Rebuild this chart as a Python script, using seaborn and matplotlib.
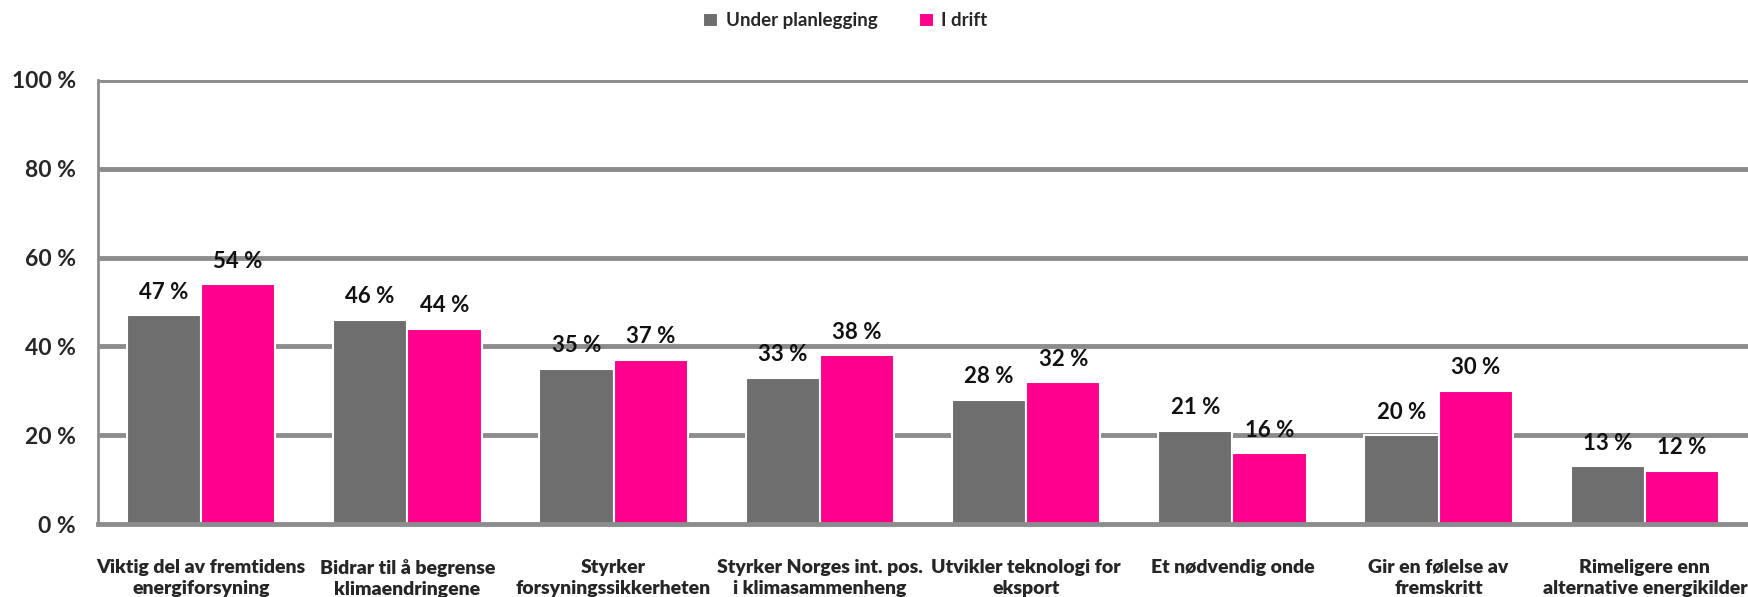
import numpy as np
import pandas as pd
import matplotlib.pyplot as plt
import seaborn as sns

categories = ['Viktig del av fremtidens\nenergiforsyning',
              'Bidrar til å begrense\nklimaendringene',
              'Styrker\nforsyningssikkerheten',
              'Styrker Norges int. pos.\ni klimasammenheng',
              'Utvikler teknologi for\neksport',
              'Et nødvendig onde',
              'Gir en følelse av\nfremskritt',
              'Rimeligere enn\nalternative energikilder']
under_planlegging = [47, 46, 35, 33, 28, 21, 20, 13]
i_drift = [54, 44, 37, 38, 32, 16, 30, 12]
series = ['Under planlegging', 'I drift']
yticks = [0, 20, 40, 60, 80, 100]

df = pd.DataFrame({
    'kategori': categories * 2,
    'serie': [series[0]] * len(categories) + [series[1]] * len(categories),
    'andel': under_planlegging + i_drift,
})

sns.set_style('white')
plt.rcParams['font.family'] = ['Lato', 'DejaVu Sans']

fig = plt.figure(figsize=(17.48, 5.97), dpi=100)
ax = fig.add_axes([0.056, 0.122, 0.944, 0.744])

grid_col = '#8c8c8c'
for y in yticks[1:]:
    ax.axhline(y, color=grid_col, lw=3.5, zorder=0)

sns.barplot(data=df, x='kategori', y='andel', hue='serie', hue_order=series,
            palette=['#6e6e6e', '#ff008c'], saturation=1, width=0.72,
            edgecolor='white', linewidth=1.5, ax=ax, zorder=2)

for cont in ax.containers:
    ax.bar_label(cont, labels=[f'{v:.0f} %' for v in cont.datavalues],
                 padding=9, fontsize=16, fontweight='bold', color='#111111')

ax.set_ylim(0, 100)
ax.set_xlim(-0.5, len(categories) - 0.5)
ax.set_yticks(yticks)
ax.set_yticklabels([f'{t} %' for t in yticks], fontsize=16.5, fontweight='bold')
ax.tick_params(axis='y', length=8, width=3.5, color=grid_col, pad=8)
ax.set_xticks(range(len(categories)))
ax.set_xticklabels(categories, fontsize=14, fontweight='heavy', linespacing=1.3)
ax.tick_params(axis='x', which='major', length=0, pad=25)
ax.set_xticks(np.arange(-0.5, len(categories)), minor=True)
ax.tick_params(axis='x', which='minor', length=7, width=2, color=grid_col)
ax.set_xlabel('')
ax.set_ylabel('')

for s in ['top', 'right']:
    ax.spines[s].set_visible(False)
ax.spines['left'].set_color(grid_col)
ax.spines['left'].set_linewidth(2)
ax.spines['bottom'].set_color(grid_col)
ax.spines['bottom'].set_linewidth(3.5)

leg = ax.legend(loc='upper center', bbox_to_anchor=(0.453, 1.19), ncol=2, frameon=False,
                fontsize=13.5, handlelength=0.8, handleheight=0.8, columnspacing=2.2,
                handletextpad=0.4)
for t in leg.get_texts():
    t.set_fontweight('bold')

fig.savefig('out.png', dpi=100)
